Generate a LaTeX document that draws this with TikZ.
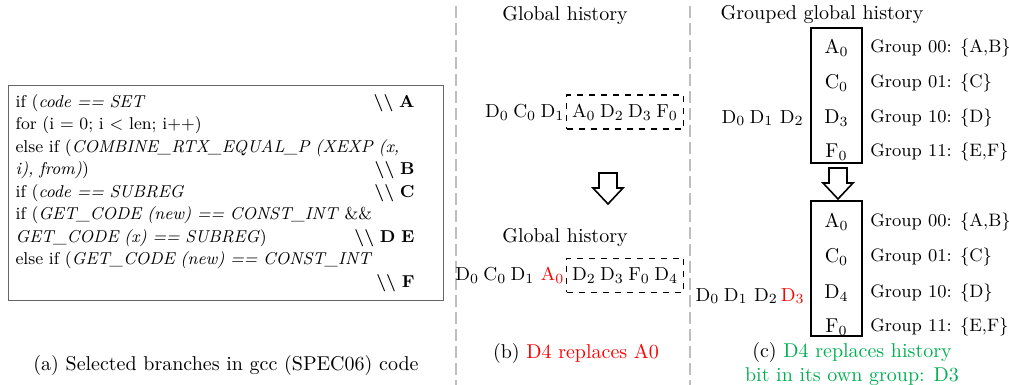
\documentclass[tikz,border=0pt]{standalone}
\usepackage{tikz}
\usetikzlibrary{positioning,calc}
\definecolor{cRed}{RGB}{255,0,0}
\definecolor{cGreen}{RGB}{0,176,80}
\definecolor{cSep}{RGB}{190,190,190}
\newcommand{\hb}[2]{#1$_{#2}$}
\newcommand{\gp}{\hspace{2.2pt}}
\newcommand{\brk}[1]{\hfill\textbf{\textbackslash\textbackslash\ #1}\kern11pt}
% hollow down arrow, #1 = top centre
\newcommand{\blockdown}[1]{%
  \draw[line width=0.8pt, fill=white] ($(#1)+(-9,0)$) -- ++(18,0) -- ++(0,15)
    -- ++(6,0) -- ($(#1)+(0,31)$) -- ($(#1)+(-15,15)$) -- ++(6,0) -- cycle;}

\begin{document}
\begin{tikzpicture}[
  x=0.5pt, y=-0.5pt,
  font=\fontsize{10}{12}\selectfont,
  codebox/.style={draw=black!60, line width=0.6pt, anchor=north west,
    align=left, text width=210.5pt, inner xsep=3.5pt, inner ysep=4.5pt,
    font=\fontsize{8.6}{11.25}\selectfont},
  hist/.style={inner sep=0.5pt, font=\fontsize{9.4}{11}\selectfont},
  win/.style={draw, dashed, line width=0.8pt, minimum width=58.5pt,
    minimum height=17pt, inner sep=1pt, font=\fontsize{9.4}{11}\selectfont},
  gbox/.style={draw, line width=1pt, minimum width=25.5pt, minimum height=67.5pt},
  grp/.style={anchor=west, inner sep=0pt, font=\fontsize{9}{11}\selectfont},
  sep/.style={draw=cSep, line width=1pt, dash pattern=on 6pt off 2.5pt}]
\useasboundingbox (0,0) rectangle (1009,385);

% separators
\draw[sep] (456,6) -- (456,385);
\draw[sep] (690,6) -- (690,385);

% (a) code
\node[codebox] (code) at (8,85) {%
if (\textit{code == SET}\brk{A}\\
for (i = 0; i < len; i++)\\
else if (\textit{COMBINE\_RTX\_EQUAL\_P (XEXP (x,}\\
\textit{i), from)})\brk{B}\\
if (\textit{code == SUBREG}\brk{C}\\
if (\textit{GET\_CODE (new) == CONST\_INT} \&\&\\
\textit{GET\_CODE (x) == SUBREG})\brk{D E}\\
else if (\textit{GET\_CODE (new) == CONST\_INT}\\
\mbox{}\brk{F}};
\node (capa) at (226,366) {(a) Selected branches in gcc (SPEC06) code};

% (b) global history
\node (gb1) at (565,16) {Global history};
\node[win] (wb1) at (625,112) {\hb{A}{0}\gp\hb{D}{2}\gp\hb{D}{3}\gp\hb{F}{0}};
\node[hist, left=0pt of wb1] (pb1) {\hb{D}{0}\gp\hb{C}{0}\gp\hb{D}{1}};
\coordinate (ab) at (608,173);
\blockdown{ab}
\node (gb2) at (565,238) {Global history};
\node[win] (wb2) at (625,275.5) {\hb{D}{2}\gp\hb{D}{3}\gp\hb{F}{0}\gp\hb{D}{4}};
\node[hist, left=0pt of wb2] (pb2) {\hb{D}{0}\gp\hb{C}{0}\gp\hb{D}{1}\hspace{3.2pt}\textcolor{cRed}{\hb{A}{0}}};
\node (capb) at (576,353) {(b) \textcolor{cRed}{D4 replaces A0}};

% (c) grouped global history
\node (gc) at (822,15) {Grouped global history};
\node[gbox] (gh1) at (836.5,95.5) {};
\foreach \n/\e/\g/\y in {1/{\hb{A}{0}}/{Group 00: \{A,B\}}/48,
    2/{\hb{C}{0}}/{Group 01: \{C\}}/83,
    3/{\hb{D}{3}}/{Group 10: \{D\}}/118,
    4/{\hb{F}{0}}/{Group 11: \{E,F\}}/152}{
  \node (ea\n) at (836.5,\y) {\e};
  \node[grp] (ga\n) at (870,\y) {\g};
}
\node[hist, anchor=east] (pc1) at (805,118) {\hb{D}{0}\gp\hb{D}{1} \hb{D}{2}};
\coordinate (ac) at (838,168);
\blockdown{ac}
\node[gbox] (gh2) at (836.5,269) {};
\foreach \n/\e/\g/\y in {1/{\hb{A}{0}}/{Group 00: \{A,B\}}/222,
    2/{\hb{C}{0}}/{Group 01: \{C\}}/257,
    3/{\hb{D}{4}}/{Group 10: \{D\}}/293,
    4/{\hb{F}{0}}/{Group 11: \{E,F\}}/327}{
  \node (eb\n) at (836.5,\y) {\e};
  \node[grp] (gg\n) at (870,\y) {\g};
}
\node[hist, anchor=east] (pc2) at (806,296) {\hb{D}{0}\gp\hb{D}{1} \hb{D}{2}\,\textcolor{cRed}{\hb{D}{3}}};
\node[align=center, text=cGreen] (capc) at (852,364)
  {\textcolor{black}{(c)} D4 replaces history\\bit in its own group: D3};
\end{tikzpicture}
\end{document}
